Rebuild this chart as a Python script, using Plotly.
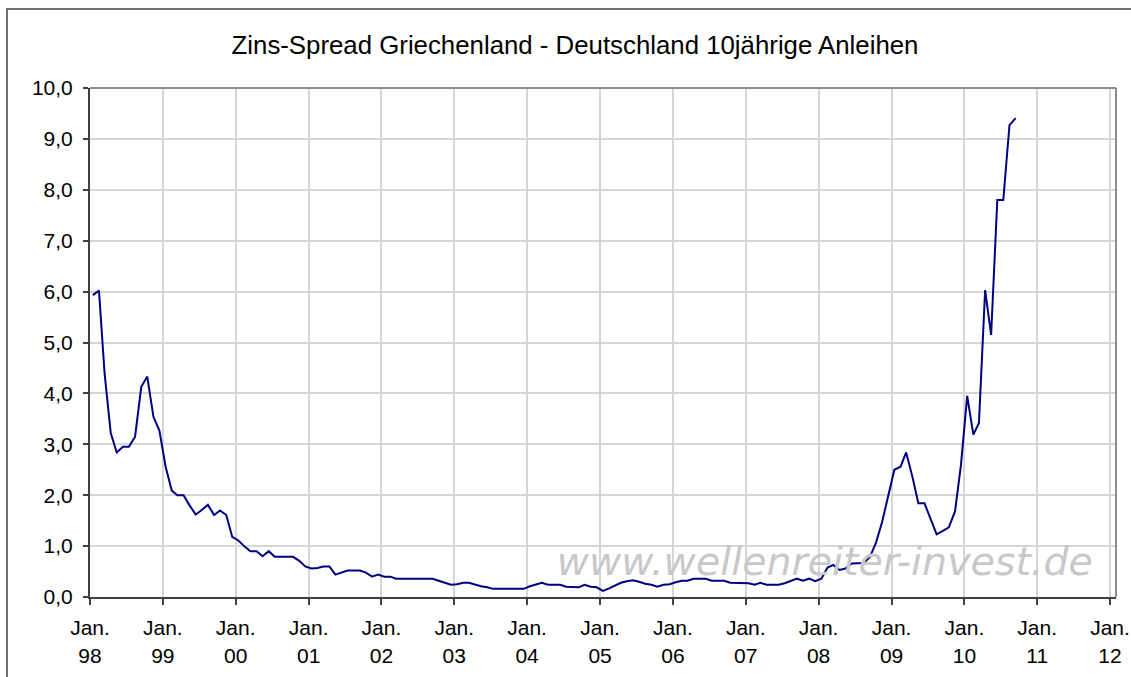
import plotly.graph_objects as go

# Monthly spread values (percentage points), Jan 1998 - Sep 2010
spread_1998 = [5.93, 6.02, 4.40, 3.22, 2.84, 2.95, 2.95, 3.15, 4.13, 4.33, 3.54, 3.27]
spread_1999 = [2.56, 2.09, 2.00, 2.00, 1.80, 1.62, 1.71, 1.81, 1.61, 1.70, 1.61, 1.18]
spread_2000 = [1.11, 0.99, 0.90, 0.90, 0.80, 0.90, 0.79, 0.79, 0.79, 0.79, 0.71, 0.60]
spread_2001 = [0.56, 0.57, 0.60, 0.60, 0.44, 0.48, 0.52, 0.52, 0.52, 0.48, 0.40, 0.44]
spread_2002 = [0.40, 0.40, 0.36, 0.36, 0.36, 0.36, 0.36, 0.36, 0.36, 0.32, 0.28, 0.24]
spread_2003 = [0.25, 0.28, 0.28, 0.24, 0.21, 0.19, 0.16, 0.16, 0.16, 0.16, 0.16, 0.16]
spread_2004 = [0.21, 0.25, 0.28, 0.24, 0.24, 0.24, 0.20, 0.19, 0.19, 0.24, 0.20, 0.19]
spread_2005 = [0.12, 0.17, 0.22, 0.28, 0.31, 0.33, 0.30, 0.26, 0.24, 0.20, 0.24, 0.25]
spread_2006 = [0.29, 0.32, 0.32, 0.36, 0.36, 0.36, 0.32, 0.32, 0.32, 0.28, 0.28, 0.28]
spread_2007 = [0.27, 0.24, 0.28, 0.24, 0.24, 0.24, 0.27, 0.31, 0.36, 0.32, 0.36, 0.31]
spread_2008 = [0.36, 0.58, 0.63, 0.53, 0.56, 0.66, 0.67, 0.67, 0.79, 1.07, 1.48, 1.98]
spread_2009 = [2.50, 2.56, 2.84, 2.37, 1.84, 1.84, 1.55, 1.23, 1.30, 1.37, 1.68, 2.60]
spread_2010 = [3.95, 3.19, 3.42, 6.03, 5.15, 7.80, 7.80, 9.27, 9.41]

start_year = 1998
years = [spread_1998, spread_1999, spread_2000, spread_2001, spread_2002,
         spread_2003, spread_2004, spread_2005, spread_2006, spread_2007,
         spread_2008, spread_2009, spread_2010]

dates, values = [], []
for i, yr in enumerate(years):
    for m, v in enumerate(yr):
        dates.append(f"{start_year + i}-{m + 1:02d}-15")
        values.append(v)

tick_years = list(range(1998, 2013))
tick_vals = [f"{y}-01-01" for y in tick_years]
tick_month = ["Jan." for _ in tick_years]
tick_year = [f"{y % 100:02d}" for y in tick_years]

title_text = "Zins-Spread Griechenland - Deutschland 10jährige Anleihen"
watermark = "www.wellenreiter-invest.de"

FONT = "Liberation Sans, Arial, sans-serif"
X_RANGE = ["1998-01-01", "2012-01-31"]

fig = go.Figure()

# watermark drawn beneath the line (on the overlay axis for the year labels)
fig.add_trace(go.Scatter(
    x=["2008-02-01"], y=[0.63], mode="text",
    text=[f"<i>{watermark}</i>"],
    textfont=dict(family="DejaVu Sans, Verdana, sans-serif", size=39.5, color="#c8c8c8"),
    textposition="middle center", hoverinfo="skip", showlegend=False,
    cliponaxis=False, xaxis="x2",
))

fig.add_trace(go.Scatter(
    x=dates, y=values, mode="lines",
    line=dict(color="#000080", width=2),
    showlegend=False,
))

fig.update_layout(
    width=1131, height=677, autosize=False,
    margin=dict(l=90, r=15, t=88, b=80, autoexpand=False),
    paper_bgcolor="white", plot_bgcolor="white",
    separators=",.",
    font=dict(family=FONT, size=21, color="black"),
    title=dict(text=title_text, x=575 / 1131, xref="container", xanchor="center",
               y=1 - 45 / 677, yanchor="middle",
               font=dict(family=FONT, size=25.8, color="black")),
    showlegend=False,
    xaxis=dict(
        type="date", range=X_RANGE, automargin=False,
        tickmode="array", tickvals=tick_vals, ticktext=tick_month,
        ticks="outside", ticklen=6, tickwidth=1.5, tickcolor="#404040",
        showgrid=True, gridcolor="#d6d6d6", gridwidth=1.5,
        showline=True, linecolor="#404040", linewidth=2,
        zeroline=False,
        tickfont=dict(family=FONT, size=21, color="black"),
        ticklabelstandoff=5,
    ),
    xaxis2=dict(
        type="date", range=X_RANGE, overlaying="x", side="bottom", anchor="y",
        automargin=False,
        tickmode="array", tickvals=tick_vals, ticktext=tick_year,
        ticks="", showgrid=False, showline=False, zeroline=False,
        tickfont=dict(family=FONT, size=21, color="black"),
        ticklabelstandoff=44,
    ),
    yaxis=dict(
        range=[0, 10], dtick=1, tick0=0, tickformat=".1f", automargin=False,
        ticks="outside", ticklen=5, tickwidth=1.5, tickcolor="#404040",
        showgrid=True, gridcolor="#d6d6d6", gridwidth=1.5,
        showline=True, linecolor="#404040", linewidth=2,
        zeroline=False,
        tickfont=dict(family=FONT, size=21, color="black"),
        ticklabelstandoff=6,
    ),
)

# plot area border (top and right) in gray
fig.add_shape(type="line", xref="paper", yref="paper", x0=0, x1=1, y0=1, y1=1,
              line=dict(color="#8c8c8c", width=2), layer="above")
fig.add_shape(type="line", xref="paper", yref="paper", x0=1, x1=1, y0=0, y1=1,
              line=dict(color="#8c8c8c", width=2), layer="above")

# outer chart frame (left and top visible, rest cropped off)
fig.add_shape(type="rect", xref="paper", yref="paper",
              x0=(7 - 90) / 1026, x1=1.2, y0=-0.5, y1=1 + (88 - 9) / 509,
              line=dict(color="#404040", width=1.5), fillcolor="rgba(0,0,0,0)",
              layer="above")

fig.write_html("out.html",
               config={"displayModeBar": False, "responsive": False},
               post_script="document.body.style.margin='0';document.body.style.overflow='hidden';")
